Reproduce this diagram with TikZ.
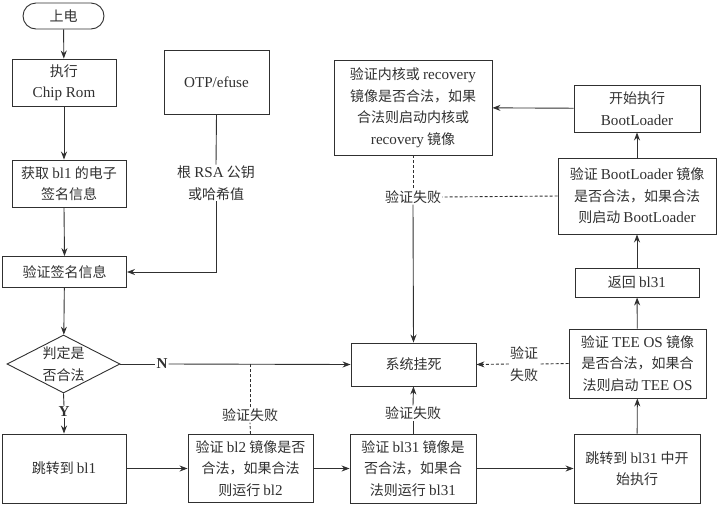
\documentclass[tikz,border=0pt]{standalone}
\usepackage{fontspec}
\setmainfont{Noto Sans CJK SC}
\newfontfamily\lat[Scale=1.08]{Liberation Serif}
\usetikzlibrary{shapes.geometric,arrows.meta}
\definecolor{ink}{HTML}{303030}
\begin{document}
\begin{tikzpicture}[x=1pt,y=-1pt,
  every node/.style={text=ink, font=\fontsize{14}{21.5}\selectfont},
  box/.style={draw=ink, line width=0.9pt, align=center, inner sep=1pt},
  lbl/.style={fill=white, inner sep=1pt, align=center},
  conn/.style={draw=ink, line width=0.9pt},
  arr/.style={conn, -{Stealth[length=8pt,width=6pt]}},
  dsh/.style={conn, dash pattern=on 3pt off 2pt}]
\useasboundingbox (0,0) rectangle (720,504);
% nodes
\node[box, rounded corners=13pt, minimum width=81pt, minimum height=26pt] (start) at (63.5,16) {上电};
\node[box, minimum width=104pt, minimum height=47pt] (chip) at (64,82.5) {执行\\{\lat Chip Rom}};
\node[box, minimum width=105pt, minimum height=64pt] (otp) at (216.5,82) {{\lat OTP/efuse}};
\node[box, minimum width=114pt, minimum height=47pt] (getsig) at (69,183.5) {获取 {\lat bl1} 的电子\\签名信息};
\node[lbl] (rsa) at (216,183) {根 {\lat RSA} 公钥\\或哈希值};
\node[box, minimum width=124pt, minimum height=31pt] (verify) at (64.5,272) {验证签名信息};
\node[draw=ink, line width=0.9pt, diamond, minimum width=113pt, minimum height=58pt, inner sep=0pt] (dec) at (63.5,364) {};
\node[align=center] at (dec.center) {判定是\\否合法};
\node[lbl] (nlab) at (162,364) {{\lat\bfseries N}};
\node[lbl] (ylab) at (64,412) {{\lat\bfseries Y}};
\node[box, minimum width=124pt, minimum height=69pt] (jbl1) at (64,468.5) {跳转到 {\lat bl1}};
\node[box, minimum width=125pt, minimum height=68pt] (bl2) at (250.5,468.5) {验证 {\lat bl2} 镜像是否\\合法，如果合法\\则运行 {\lat bl2}};
\node[lbl] (f1) at (250,415) {验证失败};
\node[box, minimum width=126pt, minimum height=69pt] (bl31) at (413,468.5) {验证 {\lat bl31} 镜像是\\否合法，如果合\\法则运行 {\lat bl31}};
\node[lbl] (f2) at (413,413) {验证失败};
\node[box, minimum width=126pt, minimum height=69pt] (jbl31) at (637,468.5) {跳转到 {\lat bl31} 中开\\始执行};
\node[box, minimum width=125pt, minimum height=43pt] (hang) at (413.5,364.5) {系统挂死};
\node[lbl] (f3) at (524,364) {验证\\失败};
\node[box, minimum width=137pt, minimum height=69pt] (tee) at (637.5,363.5) {验证 {\lat TEE OS} 镜像\\是否合法，如果合\\法则启动 {\lat TEE OS}};
\node[box, minimum width=124pt, minimum height=29pt] (ret) at (637,282.5) {返回 {\lat bl31}};
\node[box, minimum width=158pt, minimum height=76pt] (bl) at (637,196) {验证 {\lat BootLoader} 镜像\\是否合法，如果合法\\则启动 {\lat BootLoader}};
\node[box, minimum width=126pt, minimum height=47pt] (sbl) at (637,108.5) {开始执行\\{\lat BootLoader}};
\node[box, minimum width=158pt, minimum height=95pt] (rec) at (413,107.5) {验证内核或 {\lat recovery}\\镜像是否合法，如果\\合法则启动内核或\\{\lat recovery} 镜像};
\node[lbl] (f4) at (413,197) {验证失败};
% connectors
\draw[arr] (start) -- (chip);
\draw[arr] (chip.south) -- (chip.south |- getsig.north);
\draw[arr] (chip.south |- getsig.south) -- (verify.north);
\draw[conn] (otp.south) -- (rsa.north);
\draw[arr] (rsa.south) |- (verify.east);
\draw[arr] (verify) -- (dec);
\draw[conn] (dec.east) -- (nlab.west);
\draw[arr] (nlab.east) -- (hang.west);
\draw[conn] (dec.south) -- (ylab.north);
\draw[arr] (ylab.south) -- (jbl1.north);
\draw[arr] (jbl1) -- (bl2);
\draw[dsh] (bl2.north) -- (f1.south);
\draw[dsh] (f1.north) -- (f1.north |- nlab.east);
\draw[arr] (bl2) -- (bl31);
\draw[conn] (bl31.north) -- (f2.south);
\draw[arr] (f2.north) -- (hang.south);
\draw[arr] (bl31) -- (jbl31);
\draw[arr] (jbl31) -- (tee);
\draw[dsh] (tee.west) -- (f3.east);
\draw[dsh, -{Stealth[length=8pt,width=6pt]}] (f3.west) -- (hang.east);
\draw[arr] (tee) -- (ret);
\draw[arr] (ret) -- (bl);
\draw[arr] (bl) -- (sbl);
\draw[arr] (sbl) -- (rec);
\draw[dsh] (rec.south) -- (f4.north);
\draw[dsh] (bl.west) -- (f4.east);
\draw[arr] (f4.south) -- (hang.north);
\end{tikzpicture}
\end{document}
